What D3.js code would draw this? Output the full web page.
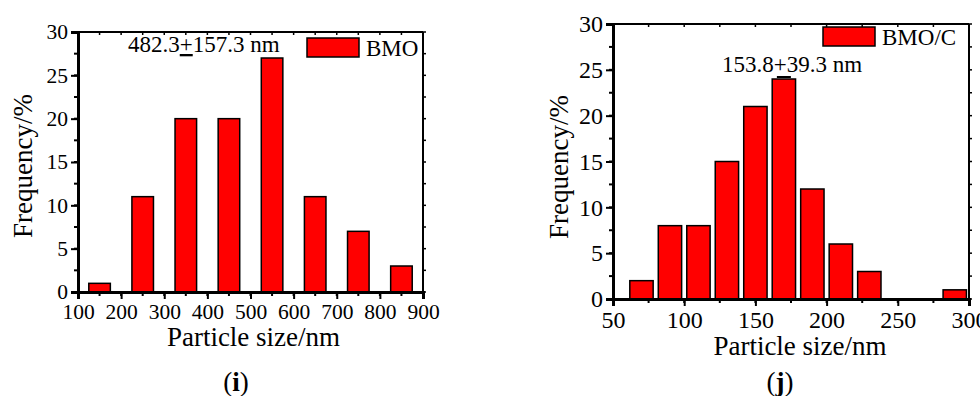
<!DOCTYPE html>
<html>
<head>
<meta charset="utf-8">
<script src="https://cdn.jsdelivr.net/npm/d3@7"></script>
<style>
  body { margin: 0; background: #fff; }
  svg text { font-family: "Liberation Serif", "Times New Roman", serif; fill: #000; }
</style>
</head>
<body>
<script>
// particle size histograms, BMO (i) and BMO/C (j)
var sizesBMO = [150, 250, 350, 450, 550, 650, 750, 850];
var freqBMO = [1, 11, 20, 20, 27, 11, 7, 3];

var sizesBMOC = [70, 90, 110, 130, 150, 170, 190, 210, 230, 250, 270, 290];
var freqBMOC = [2, 8, 8, 15, 21, 24, 12, 6, 3, 0, 0, 1];

var ticksBMO = [100, 200, 300, 400, 500, 600, 700, 800, 900];
var ticksBMOC = [50, 100, 150, 200, 250, 300];
var ticksFreq = [0, 5, 10, 15, 20, 25, 30];

var width = 980, height = 396;

var svg = d3.select("body").append("svg")
    .attr("width", width)
    .attr("height", height);

function panel(o) {
  var x = d3.scaleLinear().domain(o.xDomain).range([o.left, o.right]);
  var y = d3.scaleLinear().domain([0, 30]).range([o.bottom, o.top]);
  var g = svg.append("g");

  // bars
  g.selectAll("rect.bar")
    .data(o.sizes.map(function(s, i) { return {s: s, v: o.freq[i]}; }).filter(function(d) { return d.v > 0; }))
    .enter().append("rect")
      .attr("class", "bar")
      .attr("x", function(d) { return x(d.s - o.barW / 2); })
      .attr("width", function(d) { return x(d.s + o.barW / 2) - x(d.s - o.barW / 2); })
      .attr("y", function(d) { return y(d.v); })
      .attr("height", function(d) { return y(0) - y(d.v); })
      .attr("fill", "#ff0000")
      .attr("stroke", "#000")
      .attr("stroke-width", 1.5);

  var step = o.xTicks[1] - o.xTicks[0];
  var minorX = d3.range(o.xDomain[0], o.xDomain[1] + 1e-9, step / 2);
  var minorY = d3.range(0, 30.001, 2.5);

  // bottom axis
  var xb = g.append("g").attr("transform", "translate(0," + o.bottom + ")")
    .call(d3.axisBottom(x).tickValues(o.xTicks).tickSize(7).tickPadding(3).tickFormat(d3.format("d")));
  xb.append("g").selectAll("line").data(minorX).enter().append("line")
    .attr("x1", x).attr("x2", x).attr("y1", 0).attr("y2", 4).attr("stroke", "#000").attr("stroke-width", 2);
  xb.select(".domain").attr("stroke-width", 3);
  xb.selectAll(".tick line").attr("stroke-width", 2);
  xb.selectAll("text").style("font-size", o.tickFont + "px").attr("dy", "0.8em");

  // left axis
  var yl = g.append("g").attr("transform", "translate(" + o.left + ",0)")
    .call(d3.axisLeft(y).tickValues(ticksFreq).tickSize(7).tickPadding(3));
  yl.append("g").selectAll("line").data(minorY).enter().append("line")
    .attr("y1", y).attr("y2", y).attr("x1", 0).attr("x2", -4).attr("stroke", "#000").attr("stroke-width", 2);
  yl.select(".domain").attr("stroke-width", 3);
  yl.selectAll(".tick line").attr("stroke-width", 2);
  yl.selectAll("text").style("font-size", o.tickFont + "px");

  // top and right frame
  g.append("line").attr("x1", o.left).attr("x2", o.right).attr("y1", o.top).attr("y2", o.top)
    .attr("stroke", "#000").attr("stroke-width", 2);
  g.append("line").attr("x1", o.right).attr("x2", o.right).attr("y1", o.top).attr("y2", o.bottom)
    .attr("stroke", "#000").attr("stroke-width", 2);
  g.append("g").selectAll("line").data(minorX).enter().append("line")
    .attr("x1", x).attr("x2", x).attr("y1", o.top).attr("y2", o.top + 3).attr("stroke", "#000").attr("stroke-width", 1.5);
  g.append("g").selectAll("line").data(minorY).enter().append("line")
    .attr("y1", y).attr("y2", y).attr("x1", o.right).attr("x2", o.right + 3).attr("stroke", "#000").attr("stroke-width", 1.5);

  // axis titles
  g.append("text")
    .attr("x", (o.left + o.right) / 2 + o.xTitleShift).attr("y", o.xTitleY)
    .attr("text-anchor", "middle").style("font-size", "27px")
    .text("Particle size/nm");
  g.append("text")
    .attr("transform", "translate(" + o.yTitleX + "," + o.yTitleY + ") rotate(-90)")
    .attr("text-anchor", "middle").style("font-size", "27px")
    .text("Frequency/%");

  // legend
  g.append("rect").attr("x", o.legX).attr("y", o.legY).attr("width", 52).attr("height", 19)
    .attr("fill", "#ff0000").attr("stroke", "#000").attr("stroke-width", 1.5);
  g.append("text").attr("x", o.legX + 59).attr("y", o.legY + 18)
    .style("font-size", "23px").text(o.name);

  // mean +/- sd
  var ann = g.append("text").attr("x", o.annX).attr("y", o.annY).style("font-size", "23px");
  ann.append("tspan").text(o.mean);
  ann.append("tspan").style("text-decoration", o.underline ? "underline" : "none").text("+");
  ann.append("tspan").text(o.sd + " nm");

  // small cap on the tallest bar of (j)
  if (o.capAt) {
    g.append("line")
      .attr("x1", x(o.capAt[0] - o.barW * 0.3)).attr("x2", x(o.capAt[0] + o.barW * 0.3))
      .attr("y1", y(o.capAt[1]) - 2).attr("y2", y(o.capAt[1]) - 2)
      .attr("stroke", "#000").attr("stroke-width", 2);
  }

  // panel letter
  var lab = g.append("text").attr("x", o.letterX).attr("y", 391)
    .attr("text-anchor", "middle").style("font-size", "27px");
  lab.append("tspan").text("(");
  lab.append("tspan").style("font-weight", "bold").text(o.letter);
  lab.append("tspan").text(")");
}

panel({
  sizes: sizesBMO, freq: freqBMO, xTicks: ticksBMO, xDomain: [100, 900], barW: 50,
  left: 78, right: 423, top: 32, bottom: 292, tickFont: 21.5,
  xTitleY: 346, xTitleShift: 3, yTitleX: 32, yTitleY: 166,
  legX: 307, legY: 38, name: "BMO",
  annX: 128, annY: 52, mean: "482.3", sd: "157.3", underline: true,
  letterX: 236, letter: "i"
});

panel({
  sizes: sizesBMOC, freq: freqBMOC, xTicks: ticksBMOC, xDomain: [50, 300], barW: 16.4,
  left: 613, right: 969, top: 24, bottom: 299, tickFont: 24,
  xTitleY: 355, xTitleShift: 9, yTitleX: 568, yTitleY: 167,
  legX: 823, legY: 27, name: "BMO/C",
  annX: 722, annY: 72, mean: "153.8", sd: "39.3", underline: false,
  capAt: [170, 24],
  letterX: 780, letter: "j"
});
</script>
</body>
</html>
